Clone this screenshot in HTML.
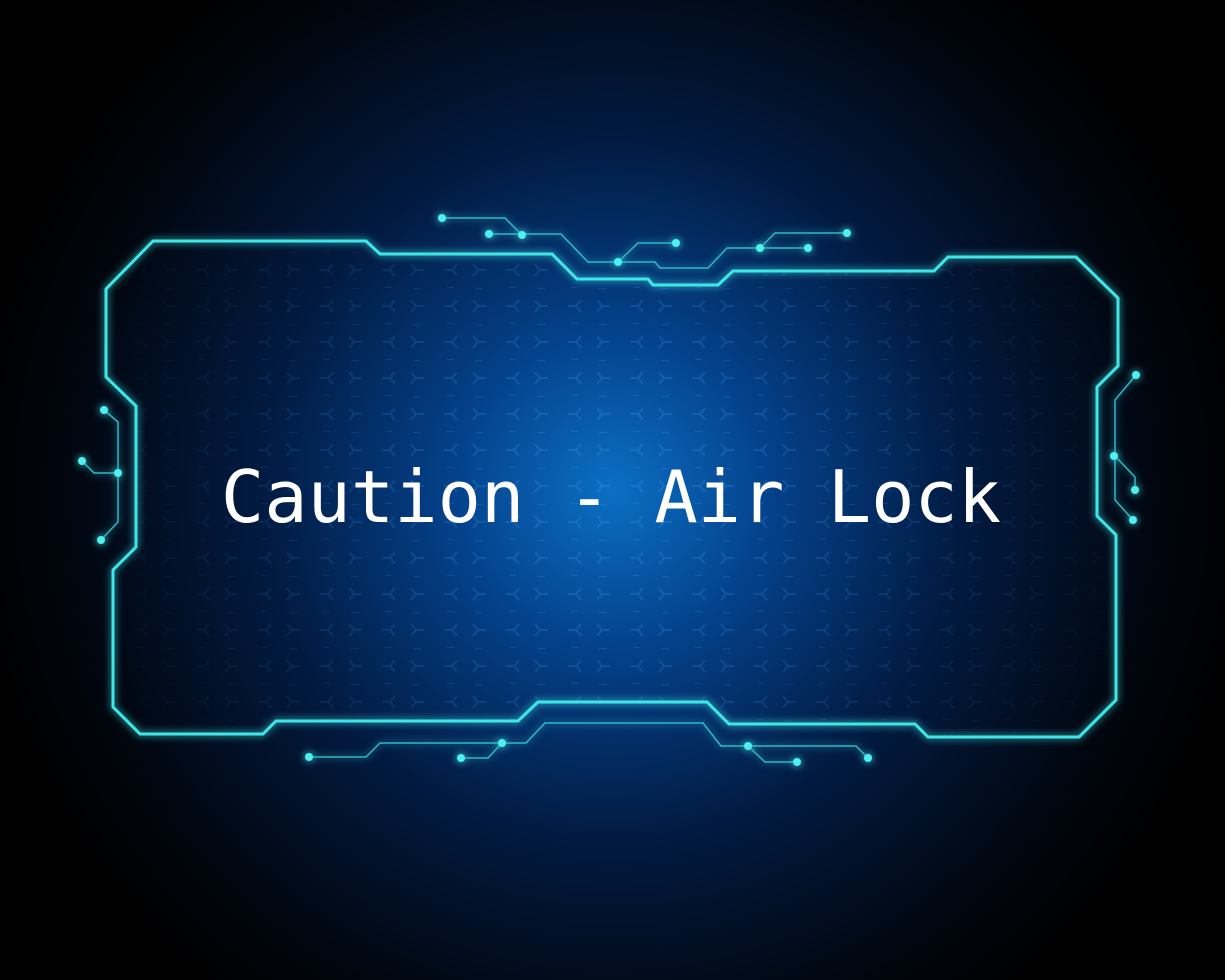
<!DOCTYPE html>
<html><head><meta charset="utf-8"><style>
html,body{margin:0;padding:0;background:#000;}
svg{display:block;}
</style></head><body>
<svg width="1225" height="980" viewBox="0 0 1225 980" xmlns="http://www.w3.org/2000/svg">
<defs>
<radialGradient id="bg" cx="612" cy="490" r="640" gradientUnits="userSpaceOnUse">
<stop offset="0" stop-color="#0b6fc4"/>
<stop offset="0.25" stop-color="#04418a"/>
<stop offset="0.55" stop-color="#021a40"/>
<stop offset="0.85" stop-color="#01060f"/>
<stop offset="1" stop-color="#000"/>
</radialGradient>
<pattern id="hex" width="62" height="36" patternUnits="userSpaceOnUse">
<g stroke="#3a8ee0" stroke-width="2" fill="none" opacity="0.35">
<path d="M10 18 L18 18 M18 18 L23 12 M18 18 L23 24"/>
<path d="M52 18 L44 18 M44 18 L39 12 M44 18 L39 24"/>
<path d="M41 0 L49 0 M20 36 L13 36"/>
</g>
</pattern>
<radialGradient id="fade" cx="612" cy="490" r="560" gradientUnits="userSpaceOnUse">
<stop offset="0" stop-color="#fff" stop-opacity="1"/>
<stop offset="0.8" stop-color="#fff" stop-opacity="0.2"/>
<stop offset="1" stop-color="#fff" stop-opacity="0"/>
</radialGradient>
<mask id="m"><rect width="1225" height="980" fill="url(#fade)"/></mask>
<filter id="glow" x="-10%" y="-10%" width="120%" height="120%">
<feGaussianBlur stdDeviation="4" result="b"/>
<feMerge><feMergeNode in="b"/><feMergeNode in="SourceGraphic"/></feMerge>
</filter>
</defs>
<rect width="1225" height="980" fill="url(#bg)"/>
<path mask="url(#m)" fill="url(#hex)" d="M153 241 L366 241 L380 254 L552 254 L577 279 L648 279 L653 285 L718 285 L733 271 L934 271 L948 257 L1076 257 L1118 298 L1118 366 L1097 387 L1097 516 L1116 535 L1116 700 L1079 737 L928 737 L915 724 L729 724 L707 702 L538 702 L518 721 L276 721 L263 734 L140 734 L113 707 L113 570 L136 547 L136 406 L106 377 L106 289 Z"/>
<g filter="url(#glow)" fill="none" stroke-linejoin="miter">
<path stroke="#3fe6e6" stroke-width="3" d="M153 241 L366 241 L380 254 L552 254 L577 279 L648 279 L653 285 L718 285 L733 271 L934 271 L948 257 L1076 257 L1118 298 L1118 366 L1097 387 L1097 516 L1116 535 L1116 700 L1079 737 L928 737 L915 724 L729 724 L707 702 L538 702 L518 721 L276 721 L263 734 L140 734 L113 707 L113 570 L136 547 L136 406 L106 377 L106 289 Z"/>
<g stroke="#2fb8c8" stroke-width="1.5">
<path d="M442 218 L505 218 L522 235"/>
<path d="M489 234 L561 234 L588 262 L618 262 L638 243 L676 243"/>
<path d="M618 262 L655 262 L660 268 L708 268 L727 248 L808 248"/>
<path d="M760 248 L775 233 L847 233"/>
<path d="M104 410 L118 422 L118 522 L101 540"/>
<path d="M82 461 L94 473 L118 473"/>
<path d="M1136 375 L1115 400 L1115 500 L1133 520"/>
<path d="M1115 456 L1135 477 L1135 490"/>
<path d="M309 757 L366 757 L380 743 L526 743 L545 723 L703 723 L721 746 L856 746 L868 758"/>
<path d="M461 758 L488 758 L502 743"/>
<path d="M748 746 L765 762 L797 762"/>
</g>
<g fill="#4ff0f0" stroke="none">
<circle cx="442" cy="218" r="4"/><circle cx="489" cy="234" r="4"/><circle cx="522" cy="235" r="4"/>
<circle cx="618" cy="262" r="4"/><circle cx="676" cy="243" r="4"/><circle cx="760" cy="248" r="4"/>
<circle cx="808" cy="248" r="4"/><circle cx="847" cy="233" r="4"/>
<circle cx="104" cy="410" r="4"/><circle cx="82" cy="461" r="4"/><circle cx="118" cy="473" r="4"/><circle cx="101" cy="540" r="4"/>
<circle cx="1136" cy="375" r="4"/><circle cx="1114" cy="456" r="4"/><circle cx="1135" cy="490" r="4"/><circle cx="1133" cy="520" r="4"/>
<circle cx="309" cy="757" r="4"/><circle cx="461" cy="758" r="4"/><circle cx="502" cy="743" r="4"/>
<circle cx="748" cy="746" r="4"/><circle cx="797" cy="762" r="4"/><circle cx="868" cy="758" r="4"/>
</g>
</g>
<text x="611" y="522" text-anchor="middle" font-family="'DejaVu Sans Mono','Liberation Mono',monospace" font-size="72" fill="#ffffff">Caution - Air Lock</text>
</svg>
</body></html>
